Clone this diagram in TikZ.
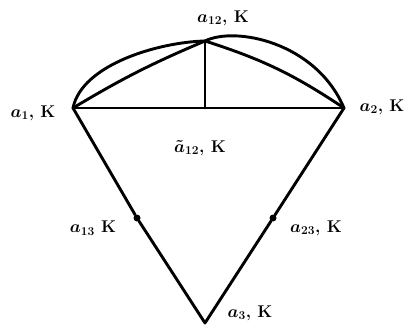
\documentclass[tikz,border=0pt]{standalone}
\begin{document}
\begin{tikzpicture}[x=1pt,y=-1pt,
  edge/.style={line width=2.9pt,line join=round,line cap=round},
  lbl/.style={font=\fontsize{17}{19}\selectfont\bfseries\boldmath,inner sep=1pt},
  dotpt/.style={circle,fill=black,inner sep=0pt,minimum size=7pt}]
\useasboundingbox (0,0) rectangle (412,329);
\coordinate (A) at (73,108);
\coordinate (B) at (344,108);
\coordinate (T) at (205,41);
\coordinate (M) at (205,108);
\coordinate (C) at (205,323);
\node[dotpt] (P) at (137,218) {};
\node[dotpt] (Q) at (273,218) {};
% edges
\draw[edge] (A) -- (B);
\draw[edge] (T) -- (M);
\draw[edge] (A) to[bend left=4] (T);
\draw[edge] (T) to[bend left=8] (B);
\draw[edge] (A) .. controls (82,64) and (160,42) .. (T)
  .. controls (235,26) and (316,42) .. (B);
\draw[edge] (A) -- (P) -- (C) -- (Q) -- (B);
% labels
\node[lbl] (lT) at (223,18) {$a_{12}$, K};
\node[lbl] (lA) at (33,113) {$a_{1}$, K};
\node[lbl] (lB) at (382,107) {$a_{2}$, K};
\node[lbl] (lM) at (200,148) {$\tilde{a}_{12}$, K};
\node[lbl] (lP) at (93,228) {$a_{13}$ K};
\node[lbl] (lQ) at (316,228) {$a_{23}$, K};
\node[lbl] (lC) at (250,313) {$a_{3}$, K};
\end{tikzpicture}
\end{document}
